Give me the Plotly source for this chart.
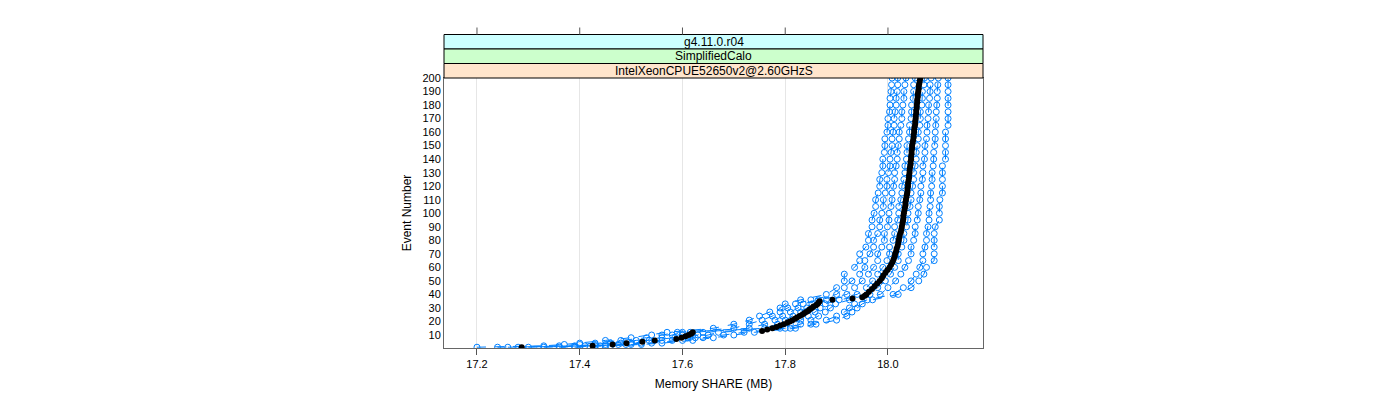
import plotly.graph_objects as go

# ---------------- data ----------------
x_ticks = [17.2, 17.4, 17.6, 17.8, 18.0]
x_tick_labels = ["17.2", "17.4", "17.6", "17.8", "18.0"]
y_ticks = [10, 20, 30, 40, 50, 60, 70, 80, 90, 100, 110, 120, 130, 140, 150,
           160, 170, 180, 190, 200]
strip_labels = ["g4.11.0.r04", "SimplifiedCalo", "IntelXeonCPUE52650v2@2.60GHzS"]

# events sampled for individual runs
run_events = [1, 2, 3, 4, 6, 8, 10, 12, 15, 18, 21, 24, 27, 30, 33, 36,
              40, 45, 50, 55, 60, 65, 70, 75, 80, 85, 90, 95, 100, 105, 110, 115,
              120, 125, 130, 135, 140, 145, 150, 155, 160, 165, 170, 175, 180,
              185, 190, 195, 200]

run_a = [17.200, 17.330, 17.370, 17.400, 17.450, 17.500, 17.540, 17.570, 17.660, 17.700,
         17.730, 17.750, 17.770, 17.790, 17.800, 17.830,
         17.880, 17.900, 17.915, 17.915, 17.935, 17.945, 17.945, 17.957, 17.962, 17.962,
         17.969, 17.969, 17.973, 17.976, 17.976, 17.981, 17.984, 17.984, 17.988, 17.990,
         17.990, 17.993, 17.994, 17.994, 17.998, 18.000, 18.000, 18.003, 18.004, 18.004,
         18.006, 18.007, 18.008]
run_b = [17.240, 17.360, 17.400, 17.430, 17.480, 17.530, 17.560, 17.590, 17.700, 17.730,
         17.755, 17.775, 17.790, 17.805, 17.820, 17.850,
         17.900, 17.915, 17.930, 17.945, 17.955, 17.955, 17.965, 17.972, 17.972, 17.980,
         17.984, 17.984, 17.988, 17.991, 17.991, 17.995, 17.998, 17.998, 18.001, 18.004,
         18.004, 18.006, 18.008, 18.008, 18.010, 18.012, 18.012, 18.014, 18.016, 18.016,
         18.018, 18.019, 18.019]
run_c = [17.260, 17.390, 17.430, 17.460, 17.510, 17.560, 17.580, 17.600, 17.730, 17.760,
         17.780, 17.795, 17.810, 17.825, 17.835, 17.865,
         17.920, 17.935, 17.950, 17.962, 17.972, 17.980, 17.980, 17.988, 17.993, 17.993,
         17.999, 18.002, 18.002, 18.006, 18.008, 18.008, 18.011, 18.013, 18.013, 18.016,
         18.018, 18.018, 18.020, 18.022, 18.022, 18.025, 18.027, 18.027, 18.029, 18.031,
         18.031, 18.033, 18.035]
run_d = [17.280, 17.410, 17.450, 17.480, 17.535, 17.585, 17.600, 17.615, 17.760, 17.785,
         17.800, 17.815, 17.830, 17.842, 17.852, 17.880,
         17.940, 17.958, 17.970, 17.980, 17.990, 17.998, 18.003, 18.003, 18.010, 18.013,
         18.013, 18.019, 18.021, 18.021, 18.025, 18.027, 18.027, 18.031, 18.033, 18.033,
         18.036, 18.037, 18.037, 18.040, 18.042, 18.042, 18.045, 18.046, 18.046, 18.049,
         18.050, 18.050, 18.053]
run_e = [17.300, 17.430, 17.475, 17.500, 17.560, 17.610, 17.630, 17.640, 17.790, 17.810,
         17.830, 17.845, 17.858, 17.868, 17.878, 17.905,
         17.965, 17.980, 17.995, 18.005, 18.013, 18.020, 18.020, 18.027, 18.031, 18.031,
         18.036, 18.039, 18.039, 18.043, 18.045, 18.045, 18.048, 18.050, 18.050, 18.053,
         18.055, 18.055, 18.057, 18.059, 18.059, 18.062, 18.063, 18.063, 18.066, 18.067,
         18.067, 18.070, 18.071]
run_f = [17.330, 17.440, 17.490, 17.520, 17.580, 17.625, 17.650, 17.670, 17.800, 17.830,
         17.850, 17.865, 17.878, 17.888, 17.898, 17.925,
         17.985, 18.000, 18.015, 18.025, 18.033, 18.040, 18.045, 18.045, 18.050, 18.053,
         18.053, 18.057, 18.059, 18.059, 18.062, 18.064, 18.064, 18.067, 18.068, 18.068,
         18.071, 18.072, 18.072, 18.075, 18.076, 18.076, 18.078, 18.079, 18.079, 18.081,
         18.082, 18.082, 18.084]
run_g = [17.360, 17.450, 17.500, 17.540, 17.600, 17.640, 17.680, 17.720, 17.810, 17.850,
         17.880, 17.900, 17.915, 17.925, 17.935, 17.960,
         18.010, 18.030, 18.045, 18.055, 18.062, 18.068, 18.068, 18.072, 18.075, 18.075,
         18.078, 18.080, 18.080, 18.082, 18.083, 18.083, 18.085, 18.086, 18.086, 18.088,
         18.089, 18.089, 18.091, 18.092, 18.092, 18.093, 18.094, 18.094, 18.095, 18.096,
         18.096, 18.097, 18.098]
run_h = [17.390, 17.460, 17.520, 17.560, 17.620, 17.660, 17.700, 17.740, 17.820, 17.860,
         17.900, 17.920, 17.930, 17.940, 17.950, 17.970,
         18.020, 18.045, 18.060, 18.070, 18.075, 18.090, 18.090, 18.090, 18.090, 18.090,
         18.092, 18.100, 18.100, 18.100, 18.101, 18.106, 18.106, 18.106, 18.106, 18.106,
         18.112, 18.112, 18.112, 18.112, 18.112, 18.117, 18.117, 18.117, 18.117, 18.117,
         18.117, 18.117, 18.117]
runs = [run_a, run_b, run_c, run_d, run_e, run_f, run_g, run_h]

# median over runs
median_events = list(range(1, 41)) + list(range(42, 201, 2))
median_values = [
    17.287, 17.425, 17.464, 17.491, 17.522, 17.546, 17.588, 17.598, 17.606, 17.612,
    17.617, 17.620, 17.755, 17.765, 17.775, 17.783, 17.790, 17.797, 17.804, 17.809,
    17.814, 17.819, 17.823, 17.828, 17.833, 17.837, 17.841, 17.845, 17.848, 17.852,
    17.855, 17.860, 17.863, 17.865, 17.867, 17.892, 17.931, 17.950, 17.955, 17.958,
    17.963, 17.969, 17.974, 17.979, 17.984, 17.988, 17.991, 17.995, 17.999, 18.003,
    18.006, 18.009, 18.011, 18.013, 18.014, 18.016, 18.017, 18.019, 18.020, 18.021,
    18.022, 18.023, 18.025, 18.026, 18.027, 18.028, 18.029, 18.030, 18.030, 18.031,
    18.032, 18.033, 18.034, 18.034, 18.035, 18.036, 18.037, 18.038, 18.038, 18.039,
    18.039, 18.040, 18.041, 18.041, 18.042, 18.042, 18.043, 18.044, 18.044, 18.045,
    18.045, 18.046, 18.046, 18.047, 18.047, 18.048, 18.049, 18.050, 18.050, 18.051,
    18.051, 18.052, 18.053, 18.053, 18.054, 18.054, 18.055, 18.055, 18.056, 18.056,
    18.057, 18.057, 18.058, 18.058, 18.059, 18.060, 18.060, 18.061, 18.062, 18.063]

# ---------------- figure ----------------
BLUE = "#0080ff"
FONT = "Liberation Sans, Arial, sans-serif"

fig = go.Figure()
for r in runs:
    fig.add_trace(go.Scatter(
        x=r, y=run_events, mode="lines+markers",
        line=dict(color=BLUE, width=1, dash="dash"),
        marker=dict(symbol="circle-open", size=6, color=BLUE, line=dict(width=1)),
        showlegend=False, hoverinfo="skip"))

fig.add_trace(go.Scatter(
    x=median_values, y=median_events, mode="markers",
    marker=dict(symbol="circle", size=6, color="black"),
    showlegend=False))

# layout geometry (pixels; page body adds an 8px offset)
W, H = 1400, 400
L, R, T, B = 436, 425, 70, 60
ph = H - T - B
strip_h = 14.5
strip_colors = ["#ccffff", "#ccffcc", "#ffe5cc"]

shapes = []
annotations = []
for i, (lab, col) in enumerate(zip(strip_labels, strip_colors)):
    k = len(strip_labels) - 1 - i
    y0 = 1 + k * strip_h / ph
    y1 = 1 + (k + 1) * strip_h / ph
    shapes.append(dict(type="rect", xref="paper", yref="paper", x0=0, x1=1,
                       y0=y0, y1=y1, fillcolor=col,
                       line=dict(color="black", width=1), layer="above"))
    annotations.append(dict(text=lab, xref="paper", yref="paper", x=0.5,
                            y=(y0 + y1) / 2, showarrow=False, xanchor="center",
                            yanchor="middle",
                            font=dict(family=FONT, size=12, color="black")))

top = 1 + len(strip_labels) * strip_h / ph
for tv in x_ticks:
    shapes.append(dict(type="line", xref="x", yref="paper", x0=tv, x1=tv,
                       y0=top, y1=top + 7 / ph,
                       line=dict(color="#555555", width=1)))

fig.update_layout(
    width=W, height=H,
    margin=dict(l=L, r=R, t=T, b=B, pad=0),
    paper_bgcolor="white", plot_bgcolor="white",
    font=dict(family=FONT, size=11, color="black"),
    shapes=shapes, annotations=annotations,
    xaxis=dict(range=[17.1358, 18.185], tickvals=x_ticks, ticktext=x_tick_labels,
               ticks="outside", ticklen=6, tickcolor="#555555",
               showgrid=True, gridcolor="#e6e6e6", gridwidth=1,
               showline=True, linecolor="#666666", linewidth=1, mirror=True,
               zeroline=False,
               title=dict(text="Memory SHARE (MB)", font=dict(size=12), standoff=10),
               tickfont=dict(size=11)),
    yaxis=dict(range=[0.4, 200], tickvals=y_ticks,
               ticks="", showgrid=False,
               showline=True, linecolor="#666666", linewidth=1, mirror=True,
               zeroline=False,
               title=dict(text="Event Number", font=dict(size=12), standoff=8),
               tickfont=dict(size=11)),
)

fig.write_html("out.html")
